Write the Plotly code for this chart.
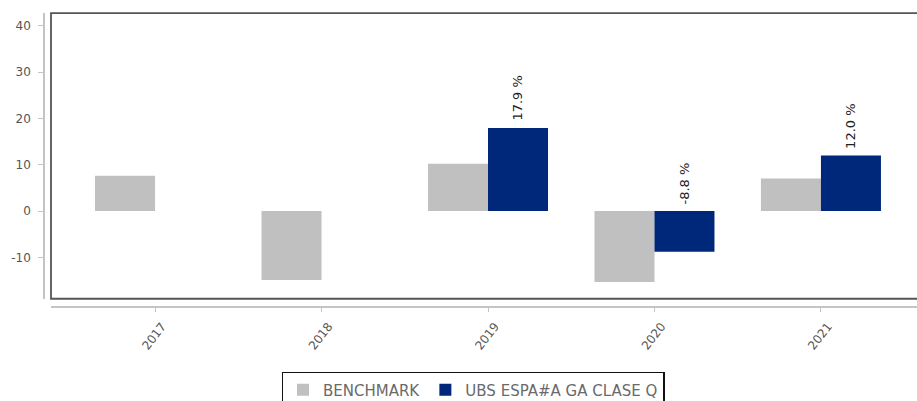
import plotly.graph_objects as go

years = ["2017", "2018", "2019", "2020", "2021"]
benchmark = [7.6, -14.9, 10.2, -15.3, 7.0]
fund = [None, None, 17.9, -8.8, 12.0]
fund_labels = ["", "", "17.9 %", "-8.8 %", "12.0 %"]
y_ticks = [-10, 0, 10, 20, 30, 40]
y_tick_text = ["-10", "0", "10", "20", "30", "40"]

W, H = 917, 408
SY = H / 401.0  # vertical correction for the capture
FONT = "DejaVu Sans"
GRAY_TXT = "#555555"


def px_x(sx):
    return sx / W


def px_y(sy):
    return 1 - sy * SY / H


fig = go.Figure()
fig.add_trace(go.Bar(x=years, y=benchmark, name="BENCHMARK",
                     marker=dict(color="#c0c0c0", line=dict(width=0))))
fig.add_trace(go.Bar(x=years, y=fund, name="UBS ESPA#A GA CLASE Q",
                     marker=dict(color="#00287a", line=dict(width=0))))

for i, (v, lab) in enumerate(zip(fund, fund_labels)):
    if v is None:
        continue
    fig.add_annotation(x=i, y=max(v, 0), text=lab, textangle=-90,
                       xref="x", yref="y", showarrow=False,
                       xshift=30, yshift=5, xanchor="center", yanchor="bottom",
                       font=dict(family=FONT, size=13, color="#222222"))

x0, x1 = px_x(51), 1.0
y0, y1 = px_y(298), px_y(13)

fig.add_shape(type="rect", xref="paper", yref="paper", x0=x0, x1=x1 + 0.002, y0=y0, y1=y1,
              line=dict(color="#555555", width=1.8))

fig.update_layout(
    width=W, height=H,
    margin=dict(l=0, r=0, t=0, b=0),
    paper_bgcolor="white", plot_bgcolor="white",
    barmode="group", bargap=0.279, bargroupgap=0,
    font=dict(family=FONT, size=12, color=GRAY_TXT),
    showlegend=True,
    legend=dict(orientation="h", x=px_x(473), xanchor="center", y=px_y(371), yanchor="top",
                bordercolor="#111111", borderwidth=1.5, bgcolor="white",
                font=dict(family=FONT, size=15, color="#6a6a6a"),
                itemwidth=30, tracegroupgap=0),
    xaxis=dict(domain=[x0, x1], anchor="free", position=px_y(306),
               type="category", range=[-0.625, 4.577],
               showline=True, linecolor="#c4c4c4", linewidth=1.5,
               ticks="outside", ticklen=4, tickcolor="#c4c4c4",
               tickangle=-52, ticklabelshift=7, ticklabelstandoff=3,
               showgrid=False, zeroline=False,
               tickfont=dict(family=FONT, size=12, color=GRAY_TXT)),
    yaxis=dict(domain=[y0, y1], anchor="free", position=px_x(44),
               range=[-18.94, 42.75], tickvals=y_ticks, ticktext=y_tick_text,
               showline=True, linecolor="#c4c4c4", linewidth=1.5,
               ticks="outside", ticklen=5, tickcolor="#c4c4c4",
               ticklabelstandoff=5,
               showgrid=False, zeroline=False,
               tickfont=dict(family=FONT, size=12, color=GRAY_TXT)),
)

css = "margin:0;padding:0;overflow:hidden"
fig.write_html(
    "out.html",
    config={"displayModeBar": False},
    post_script=(
        "document.documentElement.style.cssText='" + css + "';"
        "document.body.style.cssText='" + css + "';"
    ),
)
